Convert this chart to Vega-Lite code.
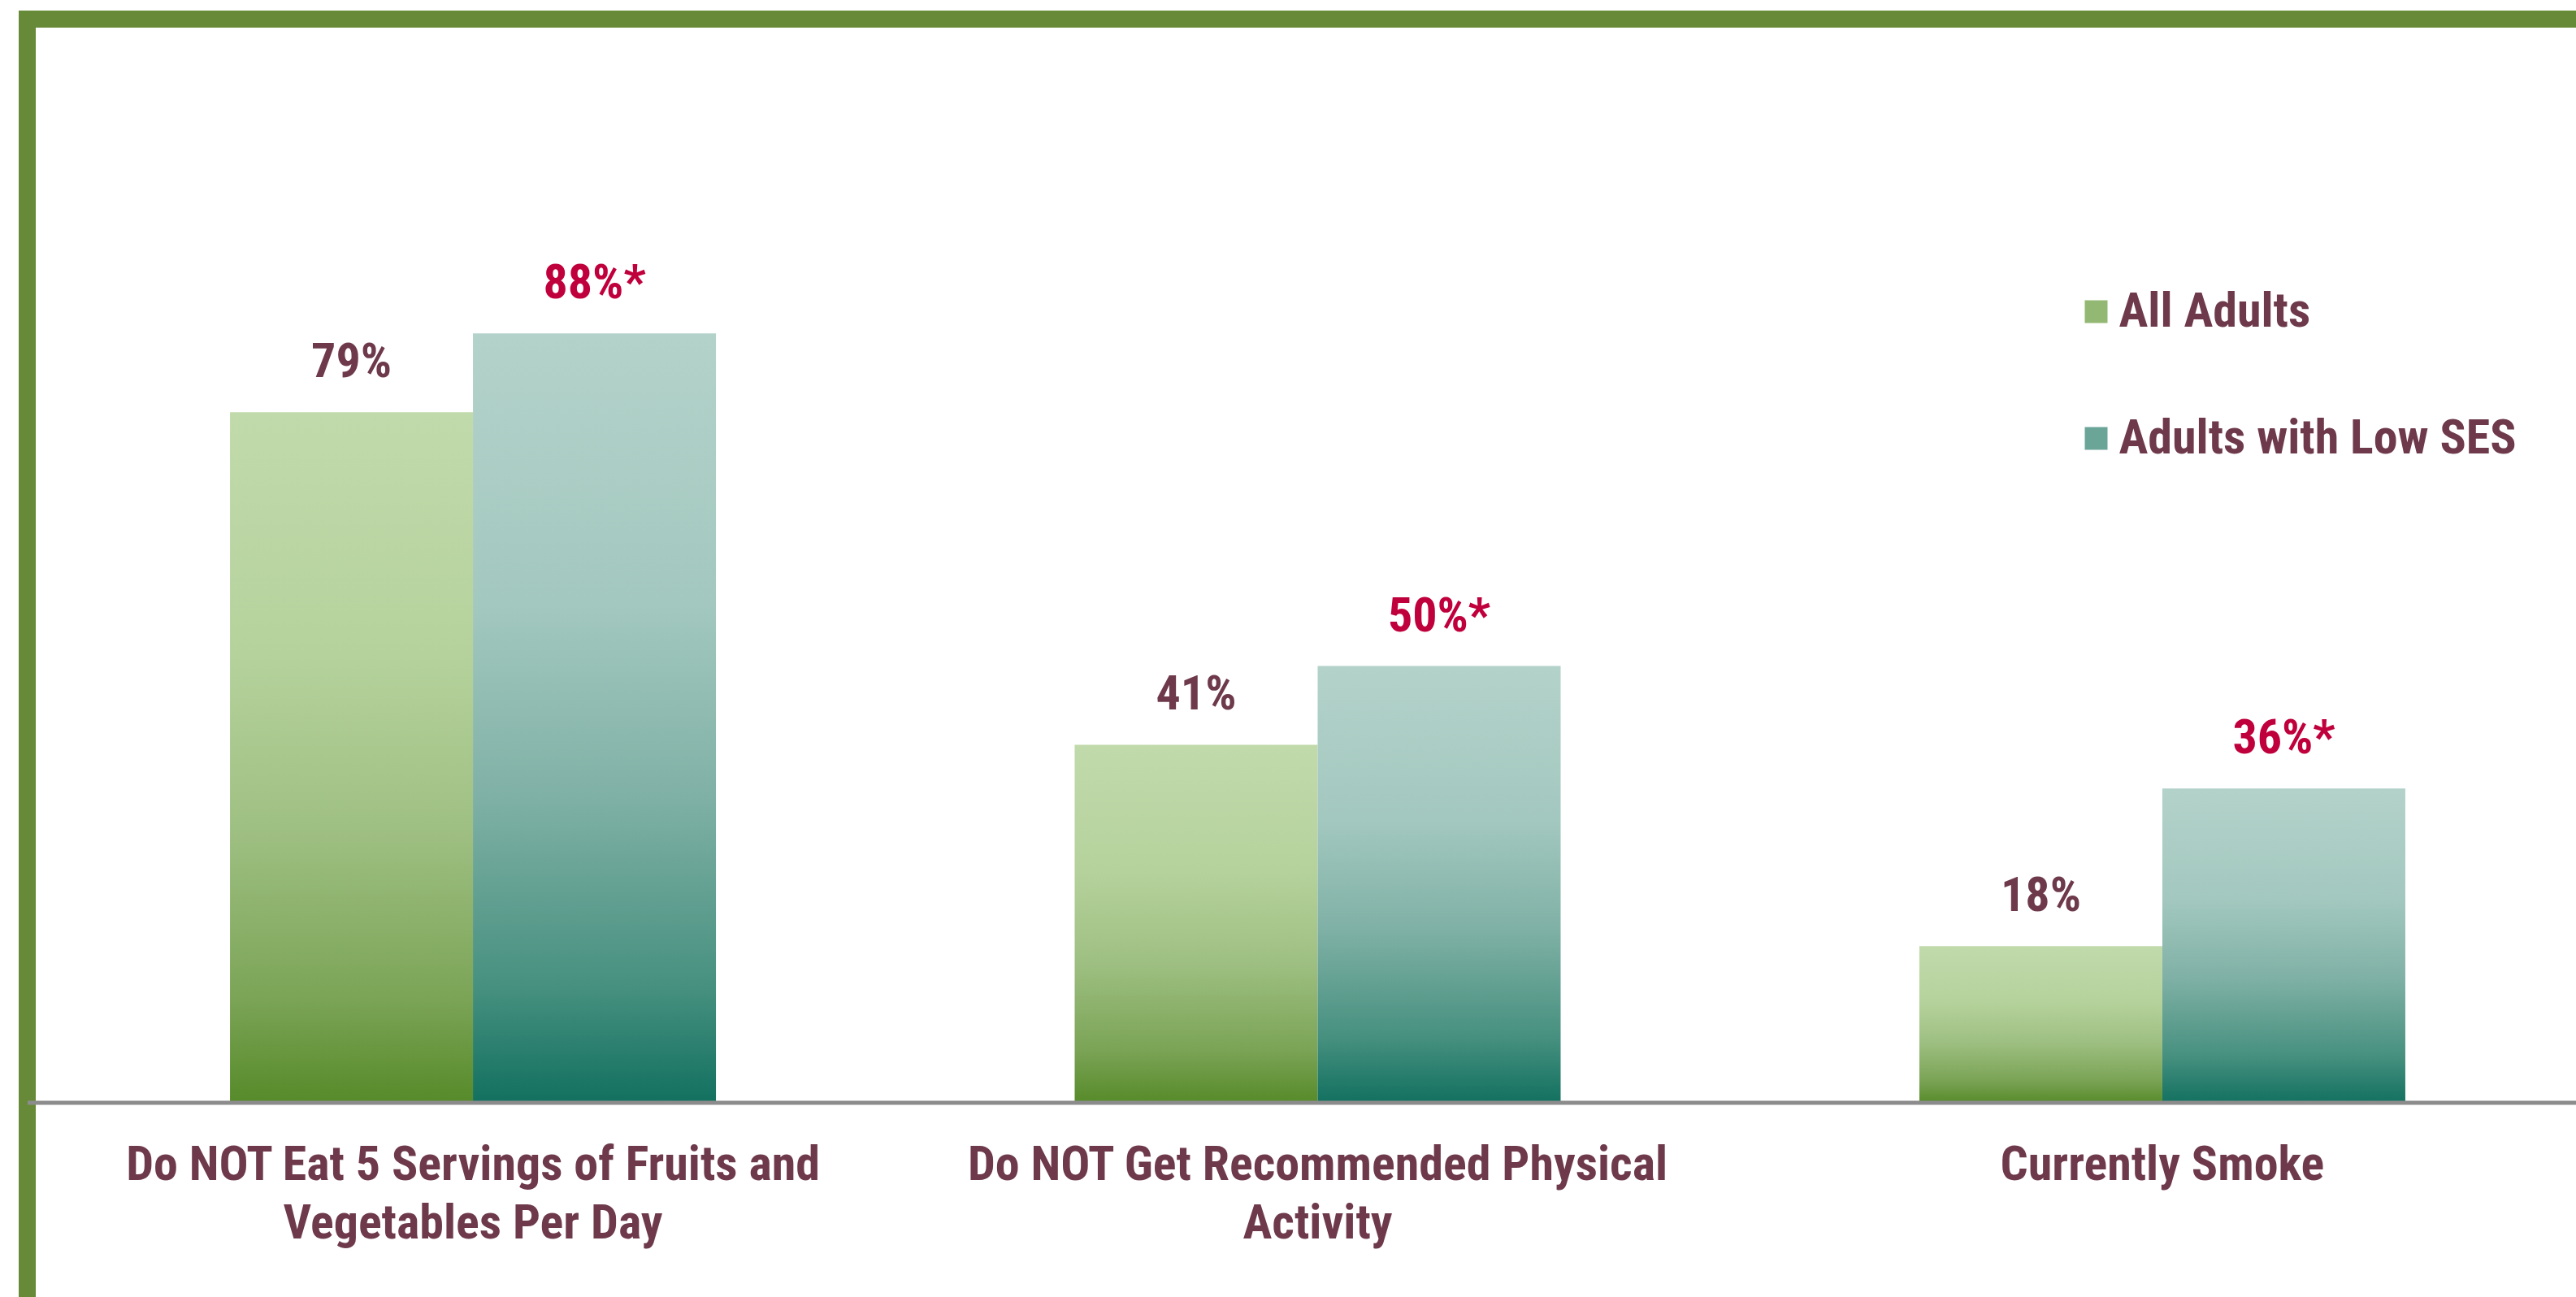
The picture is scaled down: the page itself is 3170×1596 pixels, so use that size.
{
  "$schema": "https://vega.github.io/schema/vega-lite/v6.json",
  "autosize": {"type": "none"},
  "width": 3166.5,
  "height": 1606.5,
  "padding": {"left": 33.5, "top": 23.5, "right": -30, "bottom": -34},
  "background": "white",
  "config": {
    "view": {"stroke": "#678a38", "strokeWidth": 21},
    "font": "Roboto Condensed, Open Sans Condensed, Liberation Sans Narrow, DejaVu Sans Condensed"
  },
  "data": {
    "values": [
      {"measure": "Do NOT Eat 5 Servings of Fruits and Vegetables Per Day", "group": "All Adults", "value": 79, "label": "79%"},
      {"measure": "Do NOT Eat 5 Servings of Fruits and Vegetables Per Day", "group": "Adults with Low SES", "value": 88, "label": "88%*"},
      {"measure": "Do NOT Get Recommended Physical Activity", "group": "All Adults", "value": 41, "label": "41%"},
      {"measure": "Do NOT Get Recommended Physical Activity", "group": "Adults with Low SES", "value": 50, "label": "50%*"},
      {"measure": "Currently Smoke", "group": "All Adults", "value": 18, "label": "18%"},
      {"measure": "Currently Smoke", "group": "Adults with Low SES", "value": 36, "label": "36%*"}
    ]
  },
  "encoding": {
    "x": {
      "field": "measure",
      "type": "nominal",
      "sort": ["Do NOT Eat 5 Servings of Fruits and Vegetables Per Day", "Do NOT Get Recommended Physical Activity", "Currently Smoke"],
      "scale": {"paddingInner": 0.4247, "paddingOuter": 0.2355, "align": 0.5097},
      "axis": {
        "title": null,
        "orient": "bottom",
        "offset": -273.5,
        "domainColor": "#8c8c8c",
        "domainWidth": 5,
        "ticks": false,
        "tickSize": 0,
        "labelPadding": 48,
        "labelFont": "Roboto Condensed, Open Sans Condensed, Liberation Sans Narrow, DejaVu Sans Condensed",
        "labelFontSize": 60,
        "labelFontWeight": "bold",
        "labelColor": "#6e3a4b",
        "labelLimit": 3000,
        "labelLineHeight": 72,
        "labelAngle": 0,
        "zindex": 1,
        "labelExpr": "datum.value == 'Do NOT Eat 5 Servings of Fruits and Vegetables Per Day' ? ['Do NOT Eat 5 Servings of Fruits and', 'Vegetables Per Day'] : datum.value == 'Do NOT Get Recommended Physical Activity' ? ['Do NOT Get Recommended Physical', 'Activity'] : datum.label"
      }
    },
    "xOffset": {
      "field": "group",
      "type": "nominal",
      "sort": ["All Adults", "Adults with Low SES"],
      "scale": {"paddingInner": 0, "paddingOuter": 0}
    },
    "y": {
      "field": "value",
      "type": "quantitative",
      "scale": {"domain": [-25.25, 123.91], "nice": false, "zero": false},
      "axis": null
    }
  },
  "layer": [
    {
      "mark": {"type": "bar", "strokeWidth": 0},
      "encoding": {
        "y2": {"datum": 0},
        "fill": {
          "condition": {
            "test": "datum.group == 'All Adults'",
            "value": {"gradient": "linear", "x1": 0, "y1": 0, "x2": 0, "y2": 1, "stops": [
              {"offset": 0, "color": "#c1daab"},
              {"offset": 0.35, "color": "#b5d29c"},
              {"offset": 0.6, "color": "#9fc083"},
              {"offset": 0.85, "color": "#7ba456"},
              {"offset": 1, "color": "#568a29"}
            ]}
          },
          "value": {"gradient": "linear", "x1": 0, "y1": 0, "x2": 0, "y2": 1, "stops": [
            {"offset": 0, "color": "#b3d2ca"},
            {"offset": 0.35, "color": "#a3c8bf"},
            {"offset": 0.6, "color": "#80b1a6"},
            {"offset": 0.85, "color": "#46907f"},
            {"offset": 1, "color": "#12705f"}
          ]}
        }
      }
    },
    {
      "mark": {"type": "point", "filled": false, "size": 0, "opacity": 0},
      "encoding": {
        "stroke": {
          "field": "group",
          "type": "nominal",
          "sort": ["All Adults", "Adults with Low SES"],
          "scale": {"domain": ["All Adults", "Adults with Low SES"], "range": ["#93b873", "#6aa598"]},
          "legend": {
            "title": null,
            "orient": "none",
            "legendX": 2516,
            "legendY": 330,
            "padding": 0,
            "labelFont": "Roboto Condensed, Open Sans Condensed, Liberation Sans Narrow, DejaVu Sans Condensed",
            "labelFontSize": 60,
            "labelFontWeight": "bold",
            "labelColor": "#6e3a4b",
            "labelLimit": 2000,
            "labelOffset": -2,
            "symbolType": "square",
            "symbolSize": 196,
            "symbolStrokeWidth": 14,
            "symbolOpacity": 1,
            "rowPadding": 86
          }
        }
      }
    },
    {
      "mark": {"type": "text", "fontSize": 60, "fontWeight": "bold", "baseline": "alphabetic", "align": "center", "dy": -43},
      "encoding": {
        "text": {"field": "label"},
        "color": {
          "condition": {"test": "datum.group == 'All Adults'", "value": "#6e3a4b"},
          "value": "#c0003c"
        }
      }
    }
  ]
}
